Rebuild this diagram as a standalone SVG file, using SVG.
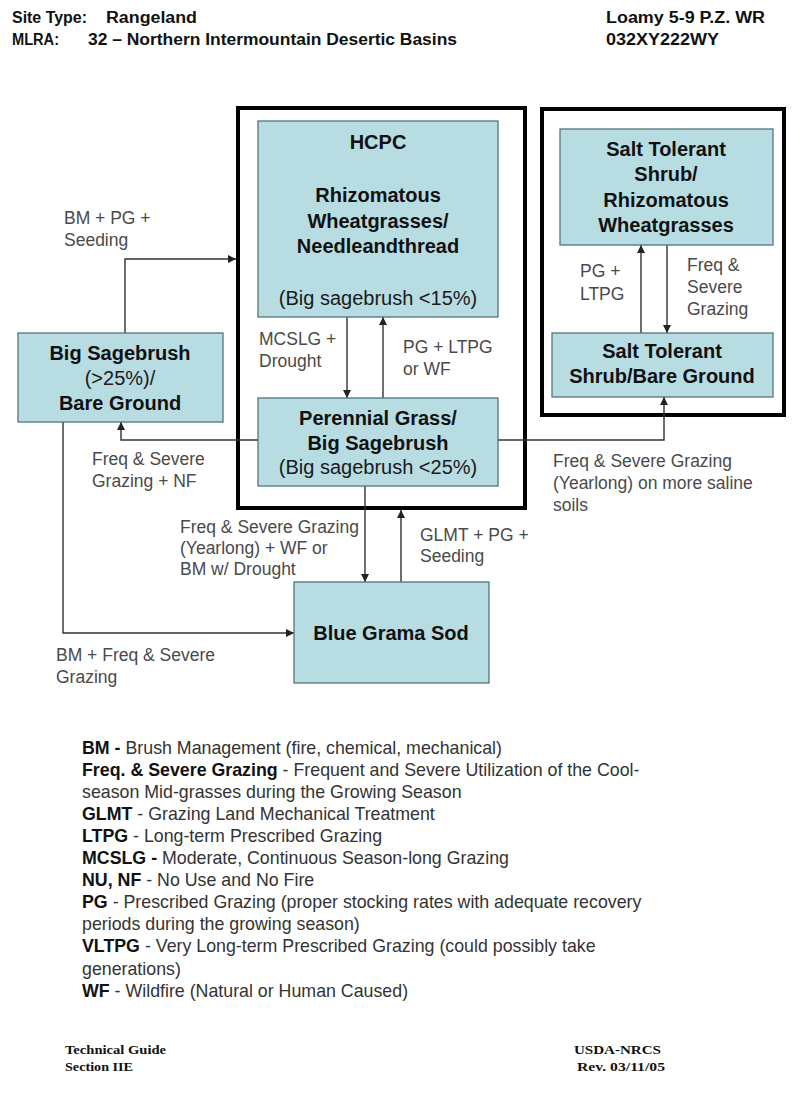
<svg xmlns="http://www.w3.org/2000/svg" width="800" height="1108" viewBox="0 0 800 1108">
<style>
.hdr{font-family:"Liberation Sans",Arial,sans-serif;font-weight:bold;font-size:16px;fill:#111}
.ftr{font-family:"Liberation Serif","Times New Roman",serif;font-weight:bold;font-size:13.5px;fill:#111}
.box{fill:#b7dde3;stroke:#51757a;stroke-width:1.3}
.frame{fill:none;stroke:#000;stroke-width:4}
.nb{font-family:"Liberation Sans",Arial,sans-serif;font-weight:bold;font-size:20px;fill:#111;text-anchor:middle}
.nr{font-family:"Liberation Sans",Arial,sans-serif;font-size:20px;fill:#1a1a1a;text-anchor:middle}
.lbl{font-family:"Liberation Sans",Arial,sans-serif;font-size:17.5px;fill:#4a4a4a}
.edge{fill:none;stroke:#333;stroke-width:1.4}
.lg{font-family:"Liberation Sans",Arial,sans-serif;font-size:17.8px;fill:#333}
.lg .b{font-weight:bold;fill:#111}
</style>
<defs>
<marker id="ah" viewBox="0 0 10 10" refX="10" refY="5" markerWidth="8" markerHeight="8" markerUnits="userSpaceOnUse" orient="auto">
<path d="M0,0 L10,5 L0,10 z" fill="#222"/>
</marker>
</defs>
<rect width="800" height="1108" fill="#fff"/>

<g id="header">
<text class="hdr" x="12" y="23" textLength="75" lengthAdjust="spacingAndGlyphs">Site Type:</text>
<text class="hdr" x="106" y="23" textLength="91" lengthAdjust="spacingAndGlyphs">Rangeland</text>
<text class="hdr" x="12" y="45" textLength="47" lengthAdjust="spacingAndGlyphs">MLRA:</text>
<text class="hdr" x="88" y="45" textLength="369" lengthAdjust="spacingAndGlyphs">32 – Northern Intermountain Desertic Basins</text>
<text class="hdr" x="606" y="23" textLength="159" lengthAdjust="spacingAndGlyphs">Loamy 5-9 P.Z. WR</text>
<text class="hdr" x="606" y="45" textLength="113" lengthAdjust="spacingAndGlyphs">032XY222WY</text>
</g>

<g id="frames">
<rect class="frame" x="238" y="108" width="287" height="400"/>
<rect class="frame" x="542" y="109" width="242" height="306"/>
</g>

<g id="connectors">
<path class="edge" d="M125,333 V259 H236" marker-end="url(#ah)"/>
<path class="edge" d="M347,317 V398" marker-end="url(#ah)"/>
<path class="edge" d="M383,398 V317" marker-end="url(#ah)"/>
<path class="edge" d="M258,440 H121 V422" marker-end="url(#ah)"/>
<path class="edge" d="M498,440 H664 V397" marker-end="url(#ah)"/>
<path class="edge" d="M667,245 V333" marker-end="url(#ah)"/>
<path class="edge" d="M641,333 V245" marker-end="url(#ah)"/>
<path class="edge" d="M365,486 V582" marker-end="url(#ah)"/>
<path class="edge" d="M401,582 V510" marker-end="url(#ah)"/>
<path class="edge" d="M63,422 V633 H294" marker-end="url(#ah)"/>
</g>

<g id="hcpc">
<rect class="box" x="258" y="121" width="240" height="196"/>
<text class="nb" x="378" y="149">HCPC</text>
<text class="nb" x="378" y="202">Rhizomatous</text>
<text class="nb" x="378" y="228">Wheatgrasses/</text>
<text class="nb" x="378" y="253">Needleandthread</text>
<text class="nr" x="378" y="305">(Big sagebrush &lt;15%)</text>
</g>

<g id="perennial">
<rect class="box" x="258" y="398" width="240" height="88"/>
<text class="nb" x="378" y="425">Perennial Grass/</text>
<text class="nb" x="378" y="450">Big Sagebrush</text>
<text class="nr" x="378" y="474">(Big sagebrush &lt;25%)</text>
</g>

<g id="salt-top">
<rect class="box" x="560" y="129" width="213" height="116"/>
<text class="nb" x="666" y="156">Salt Tolerant</text>
<text class="nb" x="666" y="181">Shrub/</text>
<text class="nb" x="666" y="207">Rhizomatous</text>
<text class="nb" x="666" y="232">Wheatgrasses</text>
</g>

<g id="salt-bottom">
<rect class="box" x="552" y="333" width="221" height="64"/>
<text class="nb" x="662" y="358">Salt Tolerant</text>
<text class="nb" x="662" y="383">Shrub/Bare Ground</text>
</g>

<g id="big-sagebrush">
<rect class="box" x="18" y="333" width="205" height="89"/>
<text class="nb" x="120" y="360">Big Sagebrush</text>
<text class="nr" x="120" y="385">(&gt;25%)/</text>
<text class="nb" x="120" y="410">Bare Ground</text>
</g>

<g id="blue-grama">
<rect class="box" x="294" y="582" width="195" height="101"/>
<text class="nb" x="391" y="640">Blue Grama Sod</text>
</g>

<g id="labels">
<text class="lbl" x="259" y="345">MCSLG +</text>
<text class="lbl" x="259" y="367">Drought</text>
<text class="lbl" x="403" y="353">PG + LTPG</text>
<text class="lbl" x="403" y="375">or WF</text>
<text class="lbl" x="580" y="277">PG +</text>
<text class="lbl" x="580" y="300">LTPG</text>
<text class="lbl" x="687" y="271">Freq &amp;</text>
<text class="lbl" x="687" y="293">Severe</text>
<text class="lbl" x="687" y="315">Grazing</text>
<text class="lbl" x="553" y="467">Freq &amp; Severe Grazing</text>
<text class="lbl" x="553" y="489">(Yearlong) on more saline</text>
<text class="lbl" x="553" y="511">soils</text>
<text class="lbl" x="64" y="224">BM + PG +</text>
<text class="lbl" x="64" y="246">Seeding</text>
<text class="lbl" x="92" y="465">Freq &amp; Severe</text>
<text class="lbl" x="92" y="487">Grazing + NF</text>
<text class="lbl" x="180" y="533">Freq &amp; Severe Grazing</text>
<text class="lbl" x="180" y="554">(Yearlong) + WF or</text>
<text class="lbl" x="180" y="575">BM w/ Drought</text>
<text class="lbl" x="420" y="541">GLMT + PG +</text>
<text class="lbl" x="420" y="562">Seeding</text>
<text class="lbl" x="56" y="661">BM + Freq &amp; Severe</text>
<text class="lbl" x="56" y="683">Grazing</text>
</g>

<g id="legend">
<text class="lg" x="82" y="753.5"><tspan class="b">BM -</tspan> Brush Management (fire, chemical, mechanical)</text>
<text class="lg" x="82" y="775.6"><tspan class="b">Freq. &amp; Severe Grazing</tspan> - Frequent and Severe Utilization of the Cool-</text>
<text class="lg" x="82" y="797.7">season Mid-grasses during the Growing Season</text>
<text class="lg" x="82" y="819.8"><tspan class="b">GLMT</tspan> - Grazing Land Mechanical Treatment</text>
<text class="lg" x="82" y="841.9"><tspan class="b">LTPG</tspan> - Long-term Prescribed Grazing</text>
<text class="lg" x="82" y="864"><tspan class="b">MCSLG -</tspan> Moderate, Continuous Season-long Grazing</text>
<text class="lg" x="82" y="886.1"><tspan class="b">NU, NF</tspan> - No Use and No Fire</text>
<text class="lg" x="82" y="908.2"><tspan class="b">PG</tspan> - Prescribed Grazing (proper stocking rates with adequate recovery</text>
<text class="lg" x="82" y="930.3">periods during the growing season)</text>
<text class="lg" x="82" y="952.4"><tspan class="b">VLTPG</tspan> - Very Long-term Prescribed Grazing (could possibly take</text>
<text class="lg" x="82" y="974.5">generations)</text>
<text class="lg" x="82" y="996.6"><tspan class="b">WF</tspan> - Wildfire (Natural or Human Caused)</text>
</g>

<g id="footer">
<text class="ftr" x="65" y="1054" textLength="101" lengthAdjust="spacingAndGlyphs">Technical Guide</text>
<text class="ftr" x="65" y="1071" textLength="68" lengthAdjust="spacingAndGlyphs">Section IIE</text>
<text class="ftr" x="574" y="1054" textLength="87" lengthAdjust="spacingAndGlyphs">USDA-NRCS</text>
<text class="ftr" x="577" y="1071" textLength="88" lengthAdjust="spacingAndGlyphs">Rev. 03/11/05</text>
</g>
</svg>
